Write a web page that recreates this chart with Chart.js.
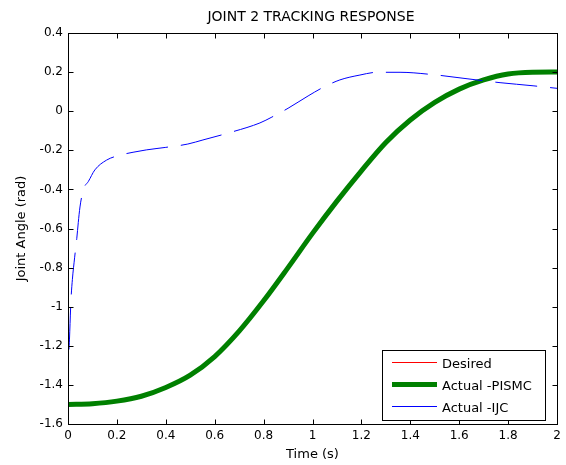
<!DOCTYPE html>
<html>
<head>
<meta charset="utf-8">
<script src="https://cdn.jsdelivr.net/npm/chart.js@4/dist/chart.umd.min.js"></script>
<style>
  html, body { margin: 0; padding: 0; background: #fff; }
  canvas { display: block; }
</style>
</head>
<body>
<canvas id="chart" width="566" height="465"></canvas>
<script>
// values
const timePISMC = [0, 0.1, 0.2, 0.3, 0.4, 0.5, 0.6, 0.7, 0.8, 0.9, 1.0, 1.1, 1.2, 1.3, 1.4, 1.5, 1.6, 1.7, 1.8, 1.9, 2.0];
const desired = [-1.5, -1.496, -1.483, -1.458, -1.413, -1.35, -1.255, -1.125, -0.97, -0.8, -0.625, -0.46, -0.305, -0.16, -0.045, 0.045, 0.113, 0.16, 0.19, 0.199, 0.2];
const actualPISMC = [-1.5, -1.496, -1.483, -1.458, -1.413, -1.35, -1.255, -1.125, -0.97, -0.8, -0.625, -0.46, -0.305, -0.16, -0.045, 0.045, 0.113, 0.16, 0.19, 0.199, 0.2];

const timeIJC = [0, 0.002, 0.006, 0.012, 0.018, 0.027, 0.036, 0.042, 0.049, 0.063, 0.083, 0.11, 0.158, 0.2, 0.266, 0.32, 0.4, 0.49, 0.552, 0.66, 0.785, 0.834, 0.9, 0.982, 1.039, 1.112, 1.194, 1.264, 1.358, 1.493, 1.632, 1.767, 1.902, 2.0];
const actualIJC = [-1.5, -1.3, -1.17, -0.97, -0.86, -0.75, -0.65, -0.57, -0.49, -0.4, -0.36, -0.3, -0.25, -0.229, -0.21, -0.198, -0.185, -0.168, -0.147, -0.11, -0.06, -0.03, 0.015, 0.078, 0.119, 0.16, 0.185, 0.199, 0.199, 0.187, 0.166, 0.146, 0.13, 0.117];

const xTicks = [0, 0.2, 0.4, 0.6, 0.8, 1, 1.2, 1.4, 1.6, 1.8, 2];
const yTicks = [-1.6, -1.4, -1.2, -1, -0.8, -0.6, -0.4, -0.2, 0, 0.2, 0.4];

const seriesNames = ['Desired', 'Actual -PISMC', 'Actual -IJC'];

function toPoints(xs, ys) {
    return xs.map((x, i) => ({ x: x, y: ys[i] }));
}

const FONT = "'DejaVu Sans', 'Liberation Sans', sans-serif";
Chart.defaults.font.family = FONT;
Chart.defaults.color = '#000';

// box, inward ticks on all sides, title and legend drawn like matlab
const matlabFrame = {
    id: 'matlabFrame',
    afterDraw(chart) {
        const { ctx, chartArea: a, scales } = chart;
        const sx = scales.x, sy = scales.y;
        const tl = 5;
        ctx.save();
        ctx.strokeStyle = '#000';
        ctx.lineWidth = 1;
        ctx.beginPath();
        xTicks.forEach(v => {
            const px = Math.round(sx.getPixelForValue(v)) + 0.5;
            ctx.moveTo(px, a.bottom + 0.5); ctx.lineTo(px, a.bottom + 0.5 - tl);
            ctx.moveTo(px, a.top + 0.5); ctx.lineTo(px, a.top + 0.5 + tl);
        });
        yTicks.forEach(v => {
            const py = Math.round(sy.getPixelForValue(v)) + 0.5;
            ctx.moveTo(a.left + 0.5, py); ctx.lineTo(a.left + 0.5 + tl, py);
            ctx.moveTo(a.right + 0.5, py); ctx.lineTo(a.right + 0.5 - tl, py);
        });
        ctx.stroke();
        ctx.strokeRect(a.left + 0.5, a.top + 0.5, a.right - a.left, a.bottom - a.top);

        // title
        ctx.fillStyle = '#000';
        ctx.font = '14px ' + FONT;
        ctx.textAlign = 'center';
        ctx.textBaseline = 'alphabetic';
        ctx.fillText('JOINT 2 TRACKING RESPONSE', 311, 21);

        // legend
        const bx = 382.5, by = 350.5, bw = 163, bh = 70;
        ctx.fillStyle = '#fff';
        ctx.fillRect(bx, by, bw, bh);
        ctx.strokeStyle = '#000';
        ctx.strokeRect(bx, by, bw, bh);
        const rows = [362.5, 384.5, 406.5];
        ctx.font = '13px ' + FONT;
        ctx.textAlign = 'left';
        chart.data.datasets.forEach((ds, i) => {
            ctx.beginPath();
            ctx.strokeStyle = ds.borderColor;
            ctx.lineWidth = ds.borderWidth;
            ctx.setLineDash([]);
            ctx.moveTo(392, rows[i]);
            ctx.lineTo(437, rows[i]);
            ctx.stroke();
            ctx.fillStyle = '#000';
            ctx.fillText(ds.label, 442, rows[i] + 5);
        });
        ctx.restore();
    }
};

new Chart(document.getElementById('chart'), {
    type: 'line',
    data: {
        datasets: [
            {
                label: seriesNames[0],
                data: toPoints(timePISMC, desired),
                borderColor: '#ff0000',
                borderWidth: 1,
                order: 2
            },
            {
                label: seriesNames[1],
                data: toPoints(timePISMC, actualPISMC),
                borderColor: '#008000',
                borderWidth: 5,
                order: 1
            },
            {
                label: seriesNames[2],
                data: toPoints(timeIJC, actualIJC),
                borderColor: '#0000ff',
                borderWidth: 1,
                borderDash: [42, 13],
                order: 0
            }
        ]
    },
    options: {
        responsive: false,
        animation: false,
        devicePixelRatio: 1,
        layout: { padding: { left: 0, top: 33, right: 9, bottom: 0 } },
        elements: {
            point: { radius: 0 },
            line: { cubicInterpolationMode: 'monotone', fill: false }
        },
        plugins: {
            legend: { display: false },
            title: { display: false },
            tooltip: { enabled: false }
        },
        scales: {
            x: {
                type: 'linear',
                min: 0,
                max: 2,
                grid: { display: false, drawTicks: false },
                border: { display: false },
                afterBuildTicks: s => { s.ticks = xTicks.map(v => ({ value: v })); },
                afterFit: s => { s.height = 41; },
                ticks: {
                    autoSkip: false,
                    maxRotation: 0,
                    padding: 5,
                    font: { size: 12 },
                    callback: v => String(v)
                },
                title: {
                    display: true,
                    text: 'Time (s)',
                    font: { size: 13 },
                    padding: { top: 0, bottom: 3 }
                }
            },
            y: {
                type: 'linear',
                min: -1.6,
                max: 0.4,
                grid: { display: false, drawTicks: false },
                border: { display: false },
                afterBuildTicks: s => { s.ticks = yTicks.map(v => ({ value: v })); },
                afterFit: s => { s.width = 68; },
                ticks: {
                    autoSkip: false,
                    padding: 5,
                    font: { size: 12 },
                    callback: v => String(v)
                },
                title: {
                    display: true,
                    text: 'Joint Angle (rad)',
                    font: { size: 13 },
                    padding: { top: 14, bottom: 0 }
                }
            }
        }
    },
    plugins: [matlabFrame]
});
</script>
</body>
</html>
